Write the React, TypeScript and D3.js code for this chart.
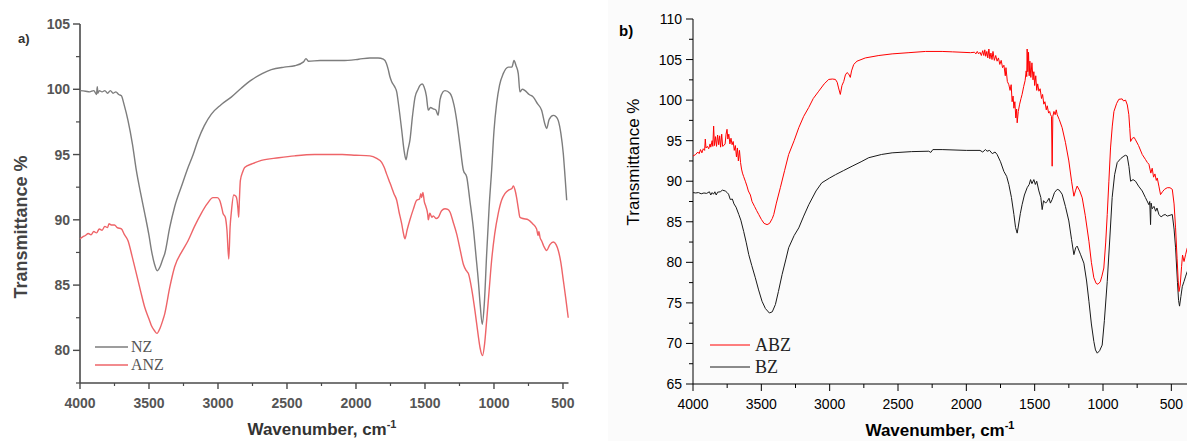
import React from "react";
import * as d3 from "d3";

type P = [number, number];

// Panel a) series: [wavenumber cm-1, transmittance %]
const nzData: P[] = [[4000,99.9],[3960,99.85],[3930,99.8],[3900,99.9],[3880,99.6],[3875,100.2],[3870,99.7],[3860,99.9],[3840,99.8],[3820,99.9],[3800,99.7],[3780,99.9],[3760,99.7],[3740,99.8],[3720,99.6],[3700,99.5],[3680,98.8],[3652,97.6],[3620,95.8],[3592,93.8],[3560,92.0],[3531,90.5],[3500,88.8],[3483,87.7],[3460,86.6],[3440,86.1],[3420,86.4],[3400,87.0],[3386,87.4],[3350,89.4],[3314,91.0],[3260,92.7],[3217,94.0],[3180,95.0],[3145,96.1],[3100,97.2],[3048,98.1],[2980,98.8],[2904,99.4],[2830,100.1],[2759,100.7],[2680,101.2],[2614,101.5],[2520,101.7],[2444,101.8],[2380,102.1],[2362,102.35],[2345,102.15],[2260,102.2],[2100,102.2],[1980,102.3],[1899,102.4],[1840,102.4],[1802,102.3],[1780,102.0],[1766,101.5],[1755,101.0],[1742,100.6],[1720,100.2],[1705,99.8],[1690,98.7],[1669,96.9],[1650,95.2],[1637,94.6],[1625,95.3],[1609,96.1],[1590,98.0],[1572,99.4],[1550,100.0],[1536,100.3],[1520,100.4],[1507,100.2],[1490,99.5],[1476,98.4],[1460,98.6],[1440,98.5],[1420,98.4],[1405,98.0],[1391,99.2],[1370,99.8],[1355,99.9],[1319,99.7],[1290,98.8],[1270,97.6],[1245,95.6],[1222,93.8],[1198,93.3],[1175,91.5],[1150,89.4],[1130,87.2],[1114,85.4],[1100,83.5],[1085,82.0],[1070,83.6],[1053,87.4],[1035,91.0],[1017,93.8],[1000,96.8],[981,98.9],[960,100.3],[933,101.2],[896,101.7],[870,101.7],[855,102.2],[840,101.8],[824,101.2],[812,99.8],[795,100.0],[775,99.9],[745,99.6],[715,99.4],[685,98.9],[655,98.4],[630,97.3],[618,97.0],[600,97.7],[570,98.0],[550,97.9],[534,97.6],[515,96.6],[498,95.1],[485,93.3],[473,91.5]];

const anzData: P[] = [[4000,88.55],[3980,88.7],[3960,88.8],[3940,88.95],[3920,88.85],[3900,89.1],[3880,89.0],[3860,89.3],[3840,89.2],[3820,89.5],[3800,89.4],[3790,89.7],[3773,89.6],[3750,89.6],[3730,89.4],[3700,89.3],[3680,88.9],[3652,88.4],[3620,87.1],[3592,85.9],[3560,84.5],[3531,83.3],[3500,82.4],[3483,81.9],[3460,81.5],[3442,81.3],[3420,81.7],[3400,82.3],[3386,82.8],[3350,84.8],[3314,86.4],[3260,87.6],[3217,88.4],[3170,89.5],[3121,90.5],[3080,91.2],[3036,91.7],[3005,91.7],[2988,91.5],[2970,90.8],[2964,90.5],[2947,90.2],[2935,89.2],[2922,87.0],[2912,89.5],[2904,90.5],[2886,91.9],[2870,91.8],[2862,91.5],[2855,90.8],[2850,90.2],[2845,91.5],[2838,93.0],[2820,93.7],[2807,94.0],[2750,94.3],[2686,94.55],[2560,94.75],[2444,94.9],[2300,95.0],[2203,95.0],[2100,95.0],[2000,94.95],[1899,94.9],[1850,94.7],[1814,94.4],[1795,94.0],[1778,93.5],[1760,93.0],[1742,92.5],[1725,92.0],[1705,91.5],[1688,90.6],[1669,89.7],[1655,88.9],[1645,88.55],[1630,89.2],[1609,90.0],[1585,90.8],[1560,91.5],[1540,91.6],[1530,92.0],[1524,91.7],[1515,92.1],[1505,91.4],[1493,91.0],[1480,90.4],[1476,90.0],[1465,90.5],[1450,90.2],[1440,90.3],[1420,90.1],[1403,90.2],[1380,90.7],[1355,90.85],[1335,90.8],[1319,90.6],[1295,89.8],[1270,88.9],[1245,87.7],[1222,86.6],[1200,86.1],[1186,85.9],[1160,84.6],[1138,83.05],[1115,81.2],[1101,80.2],[1083,79.6],[1068,80.5],[1053,82.3],[1035,84.6],[1017,86.9],[995,88.9],[969,90.5],[945,91.5],[921,92.0],[890,92.3],[870,92.4],[860,92.6],[848,92.3],[836,91.7],[824,90.9],[812,90.2],[790,90.1],[751,90.0],[720,89.7],[691,89.3],[680,88.8],[675,89.1],[665,88.6],[655,88.4],[640,88.0],[618,87.65],[595,88.1],[570,88.3],[550,88.1],[534,87.65],[515,86.7],[498,85.4],[480,84.0],[462,82.5]];

// Panel b) series
const abzData: P[] = [[4000,93.1],[3980,93.3],[3965,93.6],[3955,93.4],[3945,93.9],[3935,93.5],[3925,94.0],[3915,93.8],[3910,95.2],[3905,94.1],[3895,94.3],[3885,94.0],[3875,94.6],[3870,94.2],[3860,95.0],[3855,94.3],[3849,96.8],[3843,94.4],[3835,95.5],[3828,94.3],[3820,95.7],[3812,94.5],[3805,95.6],[3798,94.2],[3790,95.8],[3783,94.3],[3775,94.4],[3765,94.6],[3758,95.8],[3751,96.4],[3745,95.2],[3738,95.8],[3730,94.6],[3722,95.3],[3714,94.5],[3706,94.9],[3698,93.8],[3690,94.4],[3682,93.0],[3675,94.1],[3668,92.5],[3660,93.8],[3652,92.3],[3645,91.5],[3638,91.0],[3630,90.6],[3617,90.0],[3605,89.4],[3595,88.8],[3580,88.3],[3568,87.5],[3550,86.9],[3535,86.4],[3519,85.9],[3500,85.3],[3480,84.8],[3458,84.65],[3440,84.8],[3420,85.4],[3409,85.9],[3390,87.3],[3361,89.2],[3330,91.3],[3300,93.3],[3260,95.0],[3226,96.6],[3190,98.0],[3153,99.1],[3120,100.2],[3080,101.1],[3040,102.0],[3007,102.55],[2980,102.6],[2958,102.55],[2945,102.2],[2935,101.5],[2922,100.7],[2910,101.8],[2897,102.3],[2885,103.1],[2873,103.4],[2860,103.2],[2849,102.8],[2840,103.6],[2824,104.4],[2800,104.8],[2739,105.2],[2640,105.5],[2543,105.7],[2420,105.85],[2299,106.0],[2177,106.0],[2100,105.95],[1970,105.85],[1940,105.9],[1930,105.7],[1920,106.0],[1910,105.7],[1900,105.9],[1890,105.5],[1880,106.1],[1872,105.5],[1865,106.2],[1858,105.4],[1850,106.0],[1843,105.2],[1835,106.3],[1828,105.1],[1820,105.8],[1812,105.0],[1805,106.0],[1795,104.9],[1785,105.5],[1775,104.8],[1765,105.2],[1755,104.4],[1745,104.9],[1735,104.0],[1725,104.3],[1715,103.0],[1710,104.0],[1700,102.3],[1689,101.9],[1680,101.2],[1672,101.9],[1665,99.8],[1658,100.5],[1652,99.0],[1645,99.8],[1638,97.8],[1632,98.9],[1628,97.2],[1620,98.6],[1610,99.5],[1600,100.2],[1592,100.7],[1580,101.7],[1570,102.4],[1562,103.6],[1558,102.9],[1555,106.3],[1550,103.5],[1545,105.9],[1540,103.0],[1535,104.8],[1528,102.8],[1520,104.6],[1512,102.5],[1506,103.5],[1500,101.8],[1492,103.0],[1485,101.2],[1478,102.0],[1469,101.1],[1460,101.4],[1450,100.2],[1442,100.7],[1433,99.5],[1425,99.8],[1415,98.8],[1408,99.3],[1398,98.4],[1390,98.6],[1384,98.2],[1377,98.0],[1372,91.85],[1367,98.0],[1359,98.6],[1350,98.2],[1342,98.8],[1335,98.2],[1320,97.6],[1299,96.6],[1275,94.8],[1250,92.5],[1230,90.0],[1213,88.15],[1200,88.9],[1189,89.4],[1170,88.8],[1152,87.95],[1130,85.8],[1103,82.6],[1085,80.0],[1067,78.1],[1050,77.4],[1037,77.3],[1020,77.6],[1008,78.3],[994,79.3],[980,82.5],[969,85.9],[957,90.0],[945,94.1],[932,96.8],[920,98.6],[900,99.6],[884,100.1],[860,100.15],[850,99.9],[835,100.0],[822,99.4],[811,98.2],[804,96.5],[798,94.9],[785,95.3],[772,95.4],[762,95.1],[740,94.4],[713,93.3],[690,92.7],[675,92.3],[664,92.1],[650,91.0],[640,91.6],[630,90.5],[620,90.9],[610,90.1],[603,90.4],[590,89.3],[579,88.35],[565,88.7],[550,89.0],[530,89.2],[510,89.2],[493,89.0],[480,87.2],[469,84.25],[458,80.5],[450,77.8],[444,76.4],[435,77.2],[425,79.5],[418,80.9],[407,80.1],[395,81.0],[383,81.8]];

const bzData: P[] = [[4000,88.6],[3980,88.55],[3960,88.6],[3940,88.45],[3920,88.55],[3900,88.5],[3880,88.7],[3870,88.3],[3860,88.6],[3850,88.4],[3840,88.7],[3830,88.3],[3820,88.65],[3800,88.7],[3785,88.9],[3764,88.8],[3750,88.6],[3740,88.4],[3727,87.75],[3712,87.8],[3700,87.2],[3685,86.8],[3665,85.9],[3650,85.2],[3629,83.8],[3610,82.4],[3592,80.95],[3570,79.6],[3544,78.1],[3520,76.6],[3495,75.2],[3470,74.3],[3441,73.75],[3420,73.9],[3397,74.8],[3375,76.4],[3348,78.5],[3320,80.4],[3300,81.8],[3260,83.3],[3226,84.25],[3190,85.7],[3153,87.1],[3100,88.8],[3058,89.8],[3000,90.4],[2958,90.8],[2900,91.3],[2836,91.85],[2770,92.4],[2714,92.9],[2620,93.3],[2543,93.5],[2400,93.65],[2275,93.7],[2260,93.55],[2245,93.9],[2177,93.9],[2000,93.8],[1900,93.8],[1880,93.6],[1860,93.9],[1848,93.7],[1830,93.8],[1810,93.4],[1790,93.6],[1775,93.3],[1750,92.4],[1725,91.2],[1705,90.6],[1689,89.6],[1670,88.0],[1652,85.9],[1640,84.3],[1628,83.6],[1618,84.6],[1605,86.0],[1592,87.1],[1575,88.3],[1555,89.2],[1540,89.6],[1530,90.2],[1520,89.7],[1506,90.2],[1495,89.6],[1485,90.0],[1469,88.8],[1455,88.0],[1445,86.5],[1435,87.6],[1420,87.3],[1409,87.5],[1395,87.9],[1385,87.3],[1372,87.75],[1355,88.6],[1335,89.0],[1320,88.9],[1299,88.4],[1275,86.9],[1250,85.1],[1230,82.8],[1213,80.95],[1200,81.8],[1189,82.0],[1165,81.0],[1140,79.9],[1120,77.7],[1103,75.2],[1085,72.4],[1067,70.25],[1055,69.2],[1042,68.8],[1025,69.1],[1006,69.8],[990,72.8],[969,77.65],[950,83.0],[933,88.0],[915,90.8],[896,92.3],[870,92.8],[847,93.1],[835,93.2],[823,93.1],[810,91.8],[798,90.0],[780,90.2],[762,90.0],[740,89.4],[713,88.8],[690,88.0],[664,87.1],[658,87.5],[652,84.65],[648,87.3],[640,86.6],[627,86.9],[615,86.3],[605,86.7],[591,85.9],[575,85.6],[560,85.8],[545,85.9],[530,85.7],[510,85.8],[493,85.9],[480,84.1],[469,81.8],[455,77.5],[447,75.3],[440,74.6],[430,75.8],[420,77.0],[407,77.65],[395,78.3],[383,78.9]];

const xMajorTicks = [4000, 3500, 3000, 2500, 2000, 1500, 1000, 500];
const xMinorTicks = [3750, 3250, 2750, 2250, 1750, 1250, 750];
const yTicksA = [80, 85, 90, 95, 100, 105];
const yMinorA = [77.5, 82.5, 87.5, 92.5, 97.5, 102.5];
const yTicksB = [65, 70, 75, 80, 85, 90, 95, 100, 105, 110];
const yMinorB = [67.5, 72.5, 77.5, 82.5, 87.5, 92.5, 97.5, 102.5, 107.5];

const legendA = [{ name: "NZ", color: "#7d7d7d" }, { name: "ANZ", color: "#ee6468" }];
const legendB = [{ name: "ABZ", color: "#ff0000" }, { name: "BZ", color: "#1a1a1a" }];

const sans = "Arial, 'Liberation Sans', sans-serif";
const serif = "'Times New Roman', 'Liberation Serif', serif";

export default function App() {
  // Panel a scales
  const xa = d3.scaleLinear().domain([4000, 460]).range([80, 568.5]);
  const ya = d3.scaleLinear().domain([77.5, 105]).range([383, 24]);
  // Panel b scales
  const xb = d3.scaleLinear().domain([4000, 400]).range([693, 1185]);
  const yb = d3.scaleLinear().domain([65, 110]).range([384, 19]);

  const lineA = d3.line<P>().x((d) => xa(d[0])).y((d) => ya(d[1])).curve(d3.curveMonotoneX);
  const lineB = d3.line<P>().x((d) => xb(d[0])).y((d) => yb(d[1])).curve(d3.curveLinear);

  const axA = "#4a4a4a";
  const txA = "#555";

  return (
    <svg width={1187} height={441} style={{ position: "absolute", left: 0, top: 0, background: "#fff" }}>
      <rect x={608} y={0} width={579} height={441} fill="#fbfbfb" />

      {/* ---------- Panel a ---------- */}
      <g>
        <text x={18} y={43} fontFamily={sans} fontWeight="bold" fontSize={13} fill="#333">a)</text>
        <line x1={80} x2={80} y1={ya.range()[1]} y2={ya.range()[0]} stroke={axA} strokeWidth={1.6} />
        <line x1={80} x2={568.5} y1={383} y2={383} stroke={axA} strokeWidth={1.6} />
        {yTicksA.map((t) => (
          <g key={"ya" + t}>
            <line x1={73} x2={80} y1={ya(t)} y2={ya(t)} stroke={axA} strokeWidth={1.4} />
            <text x={70} y={ya(t) + 5} textAnchor="end" fontFamily={sans} fontWeight="bold" fontSize={14} fill={txA}>{t}</text>
          </g>
        ))}
        {yMinorA.map((t) => (
          <line key={"yma" + t} x1={76} x2={80} y1={ya(t)} y2={ya(t)} stroke={axA} strokeWidth={1.2} />
        ))}
        {xMajorTicks.map((t) => (
          <g key={"xa" + t}>
            <line x1={xa(t)} x2={xa(t)} y1={383} y2={389} stroke={axA} strokeWidth={1.4} />
            <text x={xa(t)} y={408} textAnchor="middle" fontFamily={sans} fontWeight="bold" fontSize={14} fill={txA}>{t}</text>
          </g>
        ))}
        {xMinorTicks.map((t) => (
          <line key={"xma" + t} x1={xa(t)} x2={xa(t)} y1={383} y2={386} stroke={axA} strokeWidth={1.2} />
        ))}
        <text transform="translate(27,227) rotate(-90)" textAnchor="middle" fontFamily={sans} fontWeight="bold" fontSize={18} fill="#444">Transmittance %</text>
        <text x={322} y={435} textAnchor="middle" fontFamily={sans} fontWeight="bold" fontSize={17} fill="#333">
          Wavenumber, cm<tspan dy={-7} fontSize={11}>-1</tspan>
        </text>
        <path d={lineA(nzData) || ""} fill="none" stroke={legendA[0].color} strokeWidth={1.4} />
        <path d={lineA(anzData) || ""} fill="none" stroke={legendA[1].color} strokeWidth={1.4} />
        {legendA.map((l, i) => (
          <g key={l.name}>
            <line x1={95} x2={128} y1={347 + i * 18} y2={347 + i * 18} stroke={l.color} strokeWidth={1.4} />
            <text x={131} y={352 + i * 18} fontFamily={serif} fontSize={16} fill="#555">{l.name}</text>
          </g>
        ))}
      </g>

      {/* ---------- Panel b ---------- */}
      <g>
        <text x={619} y={36} fontFamily={sans} fontWeight="bold" fontSize={15} fill="#000">b)</text>
        <line x1={693} x2={693} y1={19} y2={384} stroke="#000" strokeWidth={1} />
        <line x1={693} x2={1187} y1={384} y2={384} stroke="#000" strokeWidth={1} />
        {yTicksB.map((t) => (
          <g key={"yb" + t}>
            <line x1={686} x2={693} y1={yb(t)} y2={yb(t)} stroke="#000" />
            <text x={682} y={yb(t) + 5} textAnchor="end" fontFamily={sans} fontSize={14} fill="#000">{t}</text>
          </g>
        ))}
        {yMinorB.map((t) => (
          <line key={"ymb" + t} x1={689} x2={693} y1={yb(t)} y2={yb(t)} stroke="#000" />
        ))}
        {xMajorTicks.map((t) => (
          <g key={"xb" + t}>
            <line x1={xb(t)} x2={xb(t)} y1={384} y2={391} stroke="#000" />
            <text x={xb(t)} y={409} textAnchor="middle" fontFamily={sans} fontSize={14} fill="#000">{t}</text>
          </g>
        ))}
        {xMinorTicks.map((t) => (
          <line key={"xmb" + t} x1={xb(t)} x2={xb(t)} y1={384} y2={388} stroke="#000" />
        ))}
        <text transform="translate(639,162) rotate(-90)" textAnchor="middle" fontFamily={sans} fontSize={17} fill="#000">Transmittance %</text>
        <text x={940} y={436} textAnchor="middle" fontFamily={sans} fontWeight="bold" fontSize={17} fill="#000">
          Wavenumber, cm<tspan dy={-7} fontSize={11}>-1</tspan>
        </text>
        <path d={lineB(bzData) || ""} fill="none" stroke={legendB[1].color} strokeWidth={1} />
        <path d={lineB(abzData) || ""} fill="none" stroke={legendB[0].color} strokeWidth={1} />
        {legendB.map((l, i) => (
          <g key={l.name}>
            <line x1={710} x2={750} y1={345 + i * 22} y2={345 + i * 22} stroke={l.color} strokeWidth={1} />
            <text x={755} y={351 + i * 22} fontFamily={serif} fontSize={18} fill="#222">{l.name}</text>
          </g>
        ))}
      </g>
    </svg>
  );
}
